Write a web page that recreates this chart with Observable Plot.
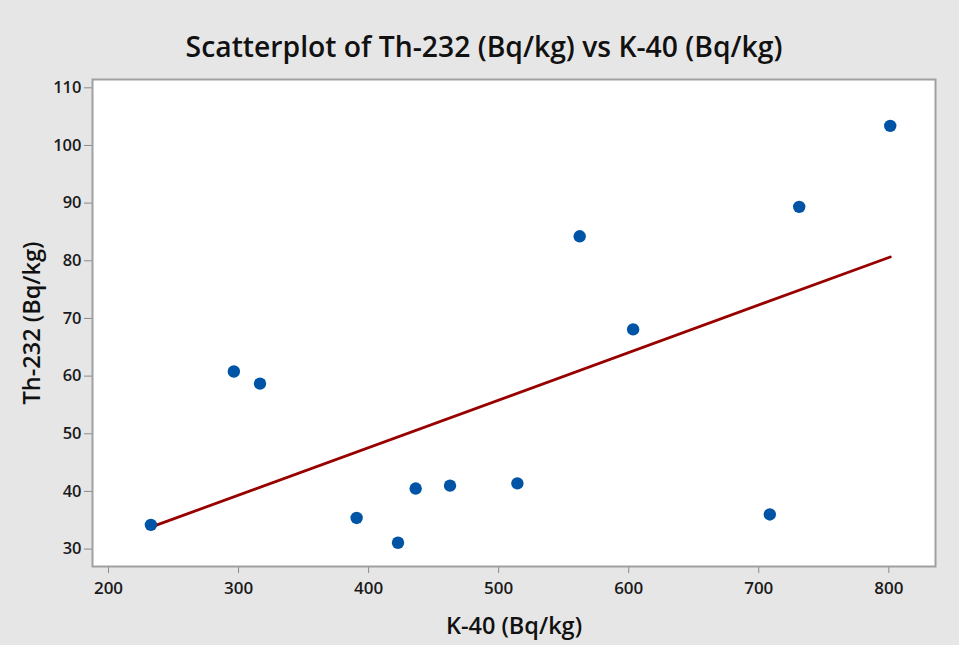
<!DOCTYPE html>
<html>
<head>
<meta charset="utf-8">
<script src="https://cdn.jsdelivr.net/npm/d3@7"></script>
<script src="https://cdn.jsdelivr.net/npm/@observablehq/plot@0.6"></script>
<style>
  html, body { margin: 0; padding: 0; background: #e6e6e6; }
  #chart { width: 959px; height: 645px; }
</style>
</head>
<body>
<div id="chart"></div>
<script>
const k40 = [232.6, 296.4, 316.5, 390.8, 422.6, 436.2, 462.6, 514.4, 562.3, 603.4, 708.5, 731.1, 801.1];
const th232 = [34.2, 60.8, 58.7, 35.4, 31.1, 40.5, 41.0, 41.4, 84.25, 68.1, 36.0, 89.35, 103.4];
const xTicks = [200, 300, 400, 500, 600, 700, 800];
const yTicks = [30, 40, 50, 60, 70, 80, 90, 100, 110];
const titleText = "Scatterplot of Th-232 (Bq/kg) vs K-40 (Bq/kg)";
const xLabel = "K-40 (Bq/kg)";
const yLabel = "Th-232 (Bq/kg)";

const data = k40.map((k, i) => ({k40: k, th232: th232[i]}));
const font = "'Open Sans', 'Noto Sans', sans-serif";

const plot = Plot.plot({
  width: 959,
  height: 645,
  marginTop: 79,
  marginLeft: 92,
  marginRight: 24,
  marginBottom: 79,
  style: {background: "#e6e6e6", fontFamily: font, color: "#1a1a1a"},
  x: {domain: [187.7, 835.9]},
  y: {domain: [26.98, 111.44]},
  marks: [
    Plot.frame({fill: "white", stroke: null}),
    Plot.axisX({ticks: xTicks, tickSize: 7, tickPadding: 8, fontSize: 17, label: null, stroke: "#8a8a8a", fill: "#1a1a1a", fontWeight: 600}),
    Plot.axisY({ticks: yTicks, tickSize: 8, tickPadding: 3, fontSize: 16.5, label: null, stroke: "#8a8a8a", fill: "#1a1a1a", fontWeight: 600}),
    Plot.linearRegressionY(data, {x: "k40", y: "th232", ci: 0, stroke: "#980000", strokeWidth: 2.8}),
    Plot.dot(data, {x: "k40", y: "th232", r: 6.2, fill: "#0054a6", stroke: null}),
    Plot.frame({stroke: "#a0a0a0", strokeWidth: 2}),
    Plot.text([titleText], {frameAnchor: "top", dx: -30, dy: -23, lineAnchor: "bottom", fontSize: 28.3, fontWeight: 600, fill: "#111", fontFamily: font}),
    Plot.text([xLabel], {frameAnchor: "bottom", dy: 67, lineAnchor: "bottom", fontSize: 23.5, fontWeight: 600, fill: "#111", fontFamily: font}),
    Plot.text([yLabel], {frameAnchor: "left", textAnchor: "middle", dx: -60, rotate: -90, fontSize: 23.5, fontWeight: 600, fill: "#111", fontFamily: font})
  ]
});
document.getElementById("chart").appendChild(plot);
</script>
</body>
</html>
